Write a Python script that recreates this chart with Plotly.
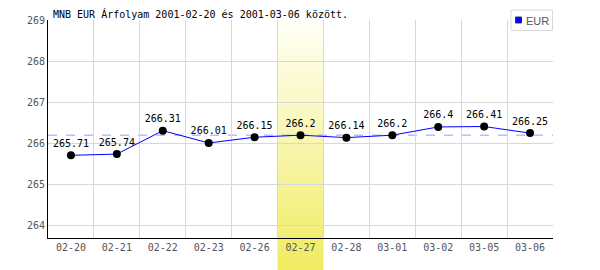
import plotly.graph_objects as go

dates = ["02-20", "02-21", "02-22", "02-23", "02-26", "02-27",
         "02-28", "03-01", "03-02", "03-05", "03-06"]
eur = [265.71, 265.74, 266.31, 266.01, 266.15, 266.2,
       266.14, 266.2, 266.4, 266.41, 266.25]
series_name = "EUR"
ref_level = 266.2
highlight_idx = 5
title = "MNB EUR Árfolyam 2001-02-20 és 2001-03-06 között."
y_range = [263.7, 269]

W, H = 600, 270
ML, MR, MT, MB = 48, 47, 20, 32
plot_w = W - ML - MR
plot_h = H - MT - MB


def px_x(p):
    return (p - ML) / plot_w


def px_y(p):
    return 1 - (p - MT) / plot_h


fig = go.Figure()

fig.add_trace(go.Scatter(
    x=dates, y=eur, mode="lines+markers+text", name=series_name,
    line=dict(color="#0000ff", width=1),
    marker=dict(color="black", size=8),
    text=[f"{v:g}" for v in eur],
    textposition="top center",
    textfont=dict(family="DejaVu Sans Mono", size=10, color="black"),
    showlegend=False, cliponaxis=False,
))

# gradient highlight column (stacked strips)
n = 50
top_px, bot_px = 20.5, 270
c0 = (255, 255, 248)
c1 = (240, 236, 96)
shapes = []
for i in range(n):
    f0 = i / n
    f1 = (i + 1) / n
    p0 = top_px + (bot_px - top_px) * f0
    p1 = top_px + (bot_px - top_px) * f1 + 0.6
    fm = (f0 + f1) / 2
    col = tuple(round(c0[k] + (c1[k] - c0[k]) * fm) for k in range(3))
    shapes.append(dict(
        type="rect", xref="x", yref="paper",
        x0=highlight_idx - 0.5, x1=highlight_idx + 0.5, y0=px_y(p1), y1=px_y(p0),
        fillcolor="rgb(%d,%d,%d)" % col, line=dict(width=0), layer="between",
    ))

shapes.append(dict(
    type="line", xref="paper", yref="y", x0=0, x1=1, y0=ref_level, y1=ref_level,
    line=dict(color="#9999ff", width=1, dash="dash"), layer="between",
))

# manual legend box
shapes.append(dict(
    type="rect", xref="paper", yref="paper",
    x0=px_x(511), x1=px_x(552.5), y0=px_y(30.5), y1=px_y(10),
    fillcolor="white", line=dict(color="#d8d8d8", width=1), layer="above",
))
shapes.append(dict(
    type="rect", xref="paper", yref="paper",
    x0=px_x(515.5), x1=px_x(521.5), y0=px_y(23), y1=px_y(17),
    fillcolor="#0000ff", line=dict(color="#333366", width=1), layer="above",
))

fig.update_layout(
    width=W, height=H,
    margin=dict(l=ML, r=MR, t=MT, b=MB),
    paper_bgcolor="white", plot_bgcolor="white",
    shapes=shapes,
    annotations=[dict(
        text=series_name, xref="paper", yref="paper",
        x=px_x(523.5), xanchor="left", y=px_y(20.5), yanchor="middle",
        showarrow=False,
        font=dict(family="Liberation Sans", size=11, color="#555555"),
    )],
    title=dict(text=title, x=53 / W, xanchor="left", xref="container",
               y=1 - 14 / H, yanchor="middle", yref="container",
               font=dict(family="DejaVu Sans Mono", size=10, color="black")),
    showlegend=False,
    xaxis=dict(type="category", range=[-0.5, len(dates) - 0.5],
               tickson="boundaries", showgrid=True, gridcolor="#d8d8d8",
               gridwidth=1, showline=True, linecolor="black", linewidth=1,
               ticks="", tickfont=dict(family="DejaVu Sans Mono", size=10, color="#555555"),
               fixedrange=True),
    yaxis=dict(range=y_range, dtick=1, tick0=264, showgrid=True,
               gridcolor="#d8d8d8", gridwidth=1, showline=True,
               linecolor="black", linewidth=1, ticks="", zeroline=False,
               tickfont=dict(family="DejaVu Sans Mono", size=10, color="#555555")),
)

fig.write_html("out.html")
